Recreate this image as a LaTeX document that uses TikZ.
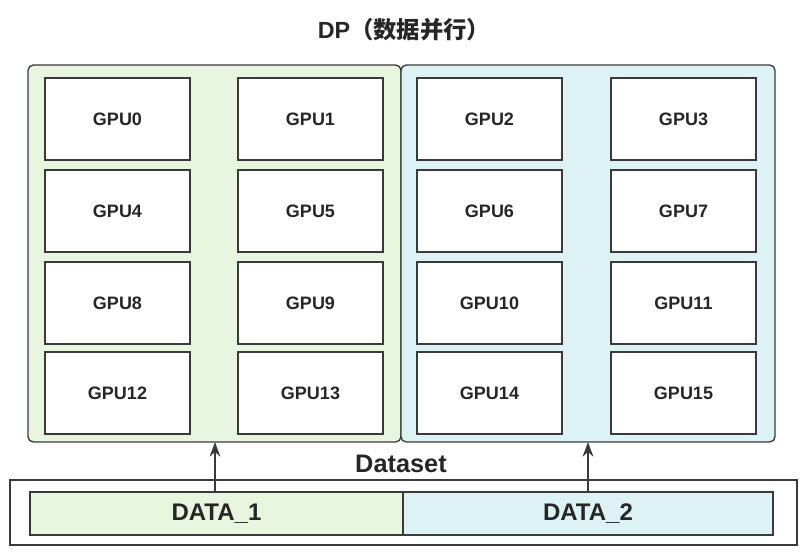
\documentclass[tikz,border=0pt]{standalone}
\usepackage{fontspec}
\setmainfont{Liberation Sans}
\newfontfamily\cjk{Noto Sans CJK SC}
\usetikzlibrary{arrows.meta}
\definecolor{pgreen}{HTML}{E8F5DF}
\definecolor{pblue}{HTML}{DDF2F5}
\definecolor{bord}{HTML}{3A3A3A}
\begin{document}
\begin{tikzpicture}[x=0.75pt,y=-0.75pt,
  gpu/.style={draw=bord,line width=1pt,fill=white,minimum width=108.75pt,minimum height=61.5pt,inner sep=0pt,font=\fontsize{13.5}{16}\selectfont\bfseries,text=black!85},
  panel/.style={draw=bord,line width=1pt,rounded corners=4pt},
  dbox/.style={draw=bord,line width=1pt,inner sep=0pt,minimum height=32.25pt,font=\fontsize{18}{21}\selectfont\bfseries,text=black!85},
  arr/.style={-{Stealth[length=11pt,width=8pt]},line width=1.5pt,draw=bord}]
\useasboundingbox (0,0) rectangle (808,556);
\node[font=\fontsize{17.5}{21}\selectfont\bfseries,text=black!85] (title) at (404,30) {DP{\cjk（数据并行）}};
\draw[panel,fill=pgreen] (28,65) rectangle (401,442);
\draw[panel,fill=pblue] (401,65) rectangle (775,442);
\coordinate (gtop) at (215,442);
\coordinate (btop) at (588,442);
\foreach \n/\x/\y in {0/117.5/119,1/310.5/119,2/489.5/119,3/683.5/119,
  4/117.5/211,5/310.5/211,6/489.5/211,7/683.5/211,
  8/117.5/303,9/310.5/303,10/489.5/303,11/683.5/303,
  12/117.5/393,13/310.5/393,14/489.5/393,15/683.5/393}
  \node[gpu] (g\n) at (\x,\y) {GPU\n};
\node[font=\fontsize{19}{22}\selectfont\bfseries,text=black!85] (ds) at (401,464) {Dataset};
\draw[draw=bord,line width=1pt,fill=white] (10,480) rectangle (797,545);
\node[dbox,fill=pgreen,minimum width=279.75pt] (d1) at (216.5,513.5) {DATA\_1};
\node[dbox,fill=pblue,minimum width=277.5pt] (d2) at (588,513.5) {DATA\_2};
\draw[arr] (d1.north -| gtop) -- (gtop);
\draw[arr] (d2.north -| btop) -- (btop);
\end{tikzpicture}
\end{document}
